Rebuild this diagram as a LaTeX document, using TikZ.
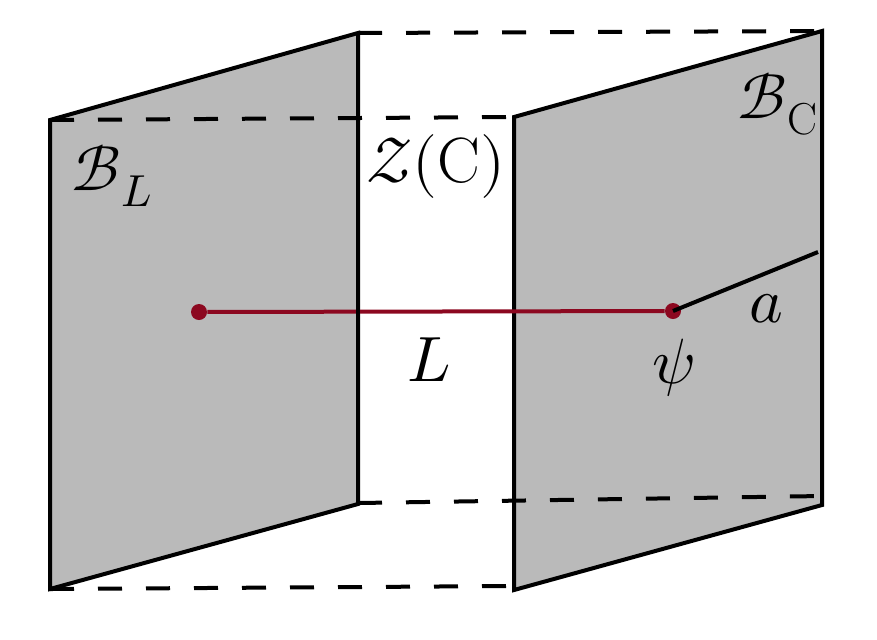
\documentclass[tikz,border=0pt]{standalone}
\usepackage{amsmath}
\usepackage{unicode-math}
\setmathfont{Latin Modern Math}
\usetikzlibrary{positioning,calc}
\definecolor{planegray}{RGB}{186,186,186}
\definecolor{linkred}{RGB}{140,8,32}

\begin{document}
\begin{tikzpicture}
[ x=0.5pt, y=-0.5pt,
  plane/.style={ fill=planegray, draw=black, line width=2pt, line join=miter },
  seam/.style={ draw=black, line width=2pt, dash pattern=on 12pt off 12pt },
  endpt/.style={ circle, fill=linkred, inner sep=0pt, minimum size=8pt },
  lbl/.style={ inner sep=0pt, font=\fontsize{32}{38}\selectfont }
]
\useasboundingbox (0,0) rectangle (877,639);
%\draw[help lines] (0,0) grid[step=50] (877,639);

% left boundary
\coordinate (ltl) at (50,120);
\coordinate (ltr) at (358,33);
\coordinate (lbr) at (358,504);
\coordinate (lbl) at (50,589);
% right boundary
\coordinate (rtl) at (514,117);
\coordinate (rtr) at (822,31);
\coordinate (rbr) at (822,505);
\coordinate (rbl) at (514,590);

\draw[plane] (ltl) -- (ltr) -- (lbr) -- (lbl) -- cycle;
\draw[plane] (rtl) -- (rtr) -- (rbr) -- (rbl) -- cycle;

\draw[seam] (ltr) -- (rtr);
\draw[seam] (ltl) -- (rtl);
\draw[seam] ($(lbr)+(0,-1)$) -- ($(rbr)+(0,-9)$);
\draw[seam] (lbl) -- ($(rbl)+(0,-4)$);

\node[endpt] (psiL) at (199,312) {};
\node[endpt] (psiR) at (673,311) {};
\coordinate (aend) at (818,252);
\draw[linkred, line width=2pt] (psiL) -- (psiR);
\draw[line width=2pt] (psiR.center) -- (aend);
\draw[line width=2pt] (ltr) -- (lbr);

\node[lbl] (bl) at (112,176) {$\mathscr{B}_L$};
\node[lbl] (zc) at (436,166) {$\mathscr{Z}(\mathrm{C})$};
\node[lbl] (bc) at (778,104) {$\mathscr{B}_{\mathrm{C}}$};
\node[lbl] (ll) at (429,360) {$L$};
\node[lbl] (psi) at (674,368) {$\psi$};
\node[lbl] (la) at (766,309) {$a$};
\end{tikzpicture}
\end{document}
